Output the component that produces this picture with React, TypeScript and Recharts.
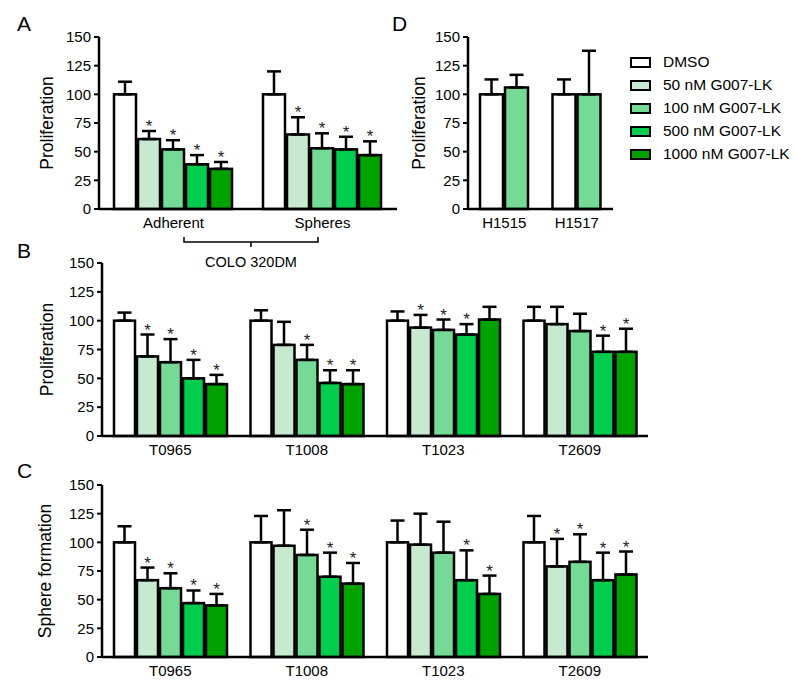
import { BarChart, Bar, XAxis, YAxis, ErrorBar } from "recharts";

const FONT = '"Liberation Sans", Arial, Helvetica, sans-serif';

const SERIES = ["DMSO", "50 nM G007-LK", "100 nM G007-LK", "500 nM G007-LK", "1000 nM G007-LK"];
const KEYS = ["dmso", "nm50", "nm100", "nm500", "nm1000"];
const COLORS = ["#ffffff", "#c6e9cf", "#74da95", "#00cc4e", "#00a200"];
const Y_TICKS = [0, 25, 50, 75, 100, 125, 150];

// panel A: COLO 320DM (rows = series, cols = categories)
const aCats = ["Adherent", "Spheres"];
const aMean = [[100, 100], [61, 65], [52, 53], [39, 52], [35, 47]];
const aErr = [[11, 20], [7, 15], [8, 13], [8, 11], [6, 12]];
const aStar = [[0, 0], [1, 1], [1, 1], [1, 1], [1, 1]];

// panel D
const dCats = ["H1515", "H1517"];
const dSeries = [0, 2];
const dMean = [[100, 100], [106, 100]];
const dErr = [[13, 13], [11, 38]];
const dStar = [[0, 0], [0, 0]];

// panel B: proliferation
const tCats = ["T0965", "T1008", "T1023", "T2609"];
const bMean = [[100, 100, 100, 100], [69, 79, 94, 97], [64, 66, 92, 91], [50, 46, 88, 73], [45, 45, 101, 73]];
const bErr = [[7, 9, 8, 12], [19, 20, 11, 15], [20, 13, 9, 15], [16, 11, 9, 14], [8, 12, 11, 20]];
const bStar = [[0, 0, 0, 0], [1, 0, 1, 0], [1, 1, 1, 0], [1, 1, 1, 1], [1, 1, 0, 1]];

// panel C: sphere formation
const cMean = [[100, 100, 100, 100], [67, 97, 98, 79], [60, 89, 91, 83], [47, 70, 67, 67], [45, 64, 55, 72]];
const cErr = [[14, 23, 19, 23], [11, 31, 27, 24], [13, 22, 27, 24], [11, 21, 26, 24], [10, 18, 16, 20]];
const cStar = [[0, 0, 0, 0], [1, 0, 0, 1], [1, 1, 0, 1], [1, 1, 1, 1], [1, 1, 1, 1]];

function buildRows(cats: string[], idx: number[], mean: number[][], err: number[][], star: number[][]) {
  return cats.map((name, c) => {
    const row: Record<string, any> = { name };
    idx.forEach((s, r) => {
      const k = KEYS[s];
      row[k] = mean[r][c];
      row[k + "Err"] = [0, err[r][c]];
      row[k + "Star"] = star[r][c];
    });
    return row;
  });
}

function makeShape(key: string) {
  return (props: any) => {
    const { x, y, width, height, fill, payload } = props;
    const v = payload[key];
    const e = payload[key + "Err"][1];
    const top = v ? y - (height / v) * e : y;
    return (
      <g>
        <rect x={x} y={y} width={width} height={height} fill={fill} stroke="#000" strokeWidth={2.5} />
        {payload[key + "Star"] ? (
          <text x={x + width / 2} y={top + 1} textAnchor="middle" fontSize={17} fill="#222">*</text>
        ) : null}
      </g>
    );
  };
}

interface PanelProps {
  left: number;
  top: number;
  width: number;
  height: number;
  margin: { top: number; right: number; left: number; bottom: number };
  yWidth: number;
  labelOffset: number;
  yLabel: string;
  cats: string[];
  idx: number[];
  mean: number[][];
  err: number[][];
  star: number[][];
  gap: number;
}

function Panel(p: PanelProps) {
  const data = buildRows(p.cats, p.idx, p.mean, p.err, p.star);
  return (
    <div style={{ position: "absolute", left: p.left, top: p.top }}>
      <BarChart width={p.width} height={p.height} data={data} margin={p.margin} barCategoryGap={p.gap} barGap={2}>
        <XAxis
          dataKey="name"
          height={30}
          interval={0}
          tickLine={false}
          axisLine={{ stroke: "#000", strokeWidth: 2.5 }}
          tick={{ fontSize: 15, fill: "#000" }}
        />
        <YAxis
          domain={[0, 150]}
          ticks={Y_TICKS}
          interval={0}
          width={p.yWidth}
          tickSize={5}
          tickMargin={3}
          axisLine={{ stroke: "#000", strokeWidth: 2.5 }}
          tickLine={{ stroke: "#000", strokeWidth: 2 }}
          tick={{ fontSize: 15, fill: "#000" }}
          label={{
            value: p.yLabel,
            angle: -90,
            position: "insideLeft",
            offset: p.labelOffset,
            style: { textAnchor: "middle", fontSize: 17.5, fill: "#000" },
          }}
        />
        {p.idx.map((s) => (
          <Bar key={KEYS[s]} dataKey={KEYS[s]} fill={COLORS[s]} isAnimationActive={false} shape={makeShape(KEYS[s])}>
            <ErrorBar dataKey={KEYS[s] + "Err"} width={7} strokeWidth={2.5} stroke="#000" direction="y" />
          </Bar>
        ))}
      </BarChart>
    </div>
  );
}

const letter = (t: string, left: number, top: number) => (
  <div style={{ position: "absolute", left, top, fontSize: 21, lineHeight: 1 }}>{t}</div>
);

export default function App() {
  const all = [0, 1, 2, 3, 4];
  return (
    <div style={{ position: "absolute", left: 0, top: 0, width: 797, height: 683, background: "#fff", fontFamily: FONT, color: "#000" }}>
      <Panel left={0} top={0} width={410} height={250} margin={{ top: 37, right: 13, left: 0, bottom: 11 }}
        yWidth={99} labelOffset={47} yLabel="Proliferation" cats={aCats} idx={all}
        mean={aMean} err={aErr} star={aStar} gap={15} />
      <Panel left={360} top={0} width={260} height={250} margin={{ top: 37, right: 7, left: 0, bottom: 11 }}
        yWidth={108} labelOffset={59} yLabel="Proliferation" cats={dCats} idx={dSeries}
        mean={dMean} err={dErr} star={dStar} gap={12} />
      <Panel left={0} top={240} width={660} height={230} margin={{ top: 23, right: 12, left: 0, bottom: 4 }}
        yWidth={102} labelOffset={47} yLabel="Proliferation" cats={tCats} idx={all}
        mean={bMean} err={bErr} star={bStar} gap={12} />
      <Panel left={0} top={460} width={660} height={230} margin={{ top: 25, right: 12, left: 0, bottom: 3 }}
        yWidth={102} labelOffset={45} yLabel="Sphere formation" cats={tCats} idx={all}
        mean={cMean} err={cErr} star={cStar} gap={12} />

      <svg style={{ position: "absolute", left: 0, top: 0 }} width={797} height={280}>
        <path d="M184 237 V242 H318 V237 M251 242 V247" fill="none" stroke="#000" strokeWidth={1.5} />
        <text x={251} y={267} textAnchor="middle" fontSize={14.5} fill="#000">COLO 320DM</text>
      </svg>

      <div style={{ position: "absolute", left: 630, top: 50.5 }}>
        {SERIES.map((s, i) => (
          <div key={s} style={{ display: "flex", alignItems: "center", height: 23 }}>
            <div style={{ width: 17, height: 7, border: "2px solid #000", background: COLORS[i] }} />
            <span style={{ marginLeft: 12, fontSize: 15.5, whiteSpace: "nowrap" }}>{s}</span>
          </div>
        ))}
      </div>

      {letter("A", 17, 13)}
      {letter("D", 392, 13)}
      {letter("B", 17, 240)}
      {letter("C", 17, 460)}
    </div>
  );
}
